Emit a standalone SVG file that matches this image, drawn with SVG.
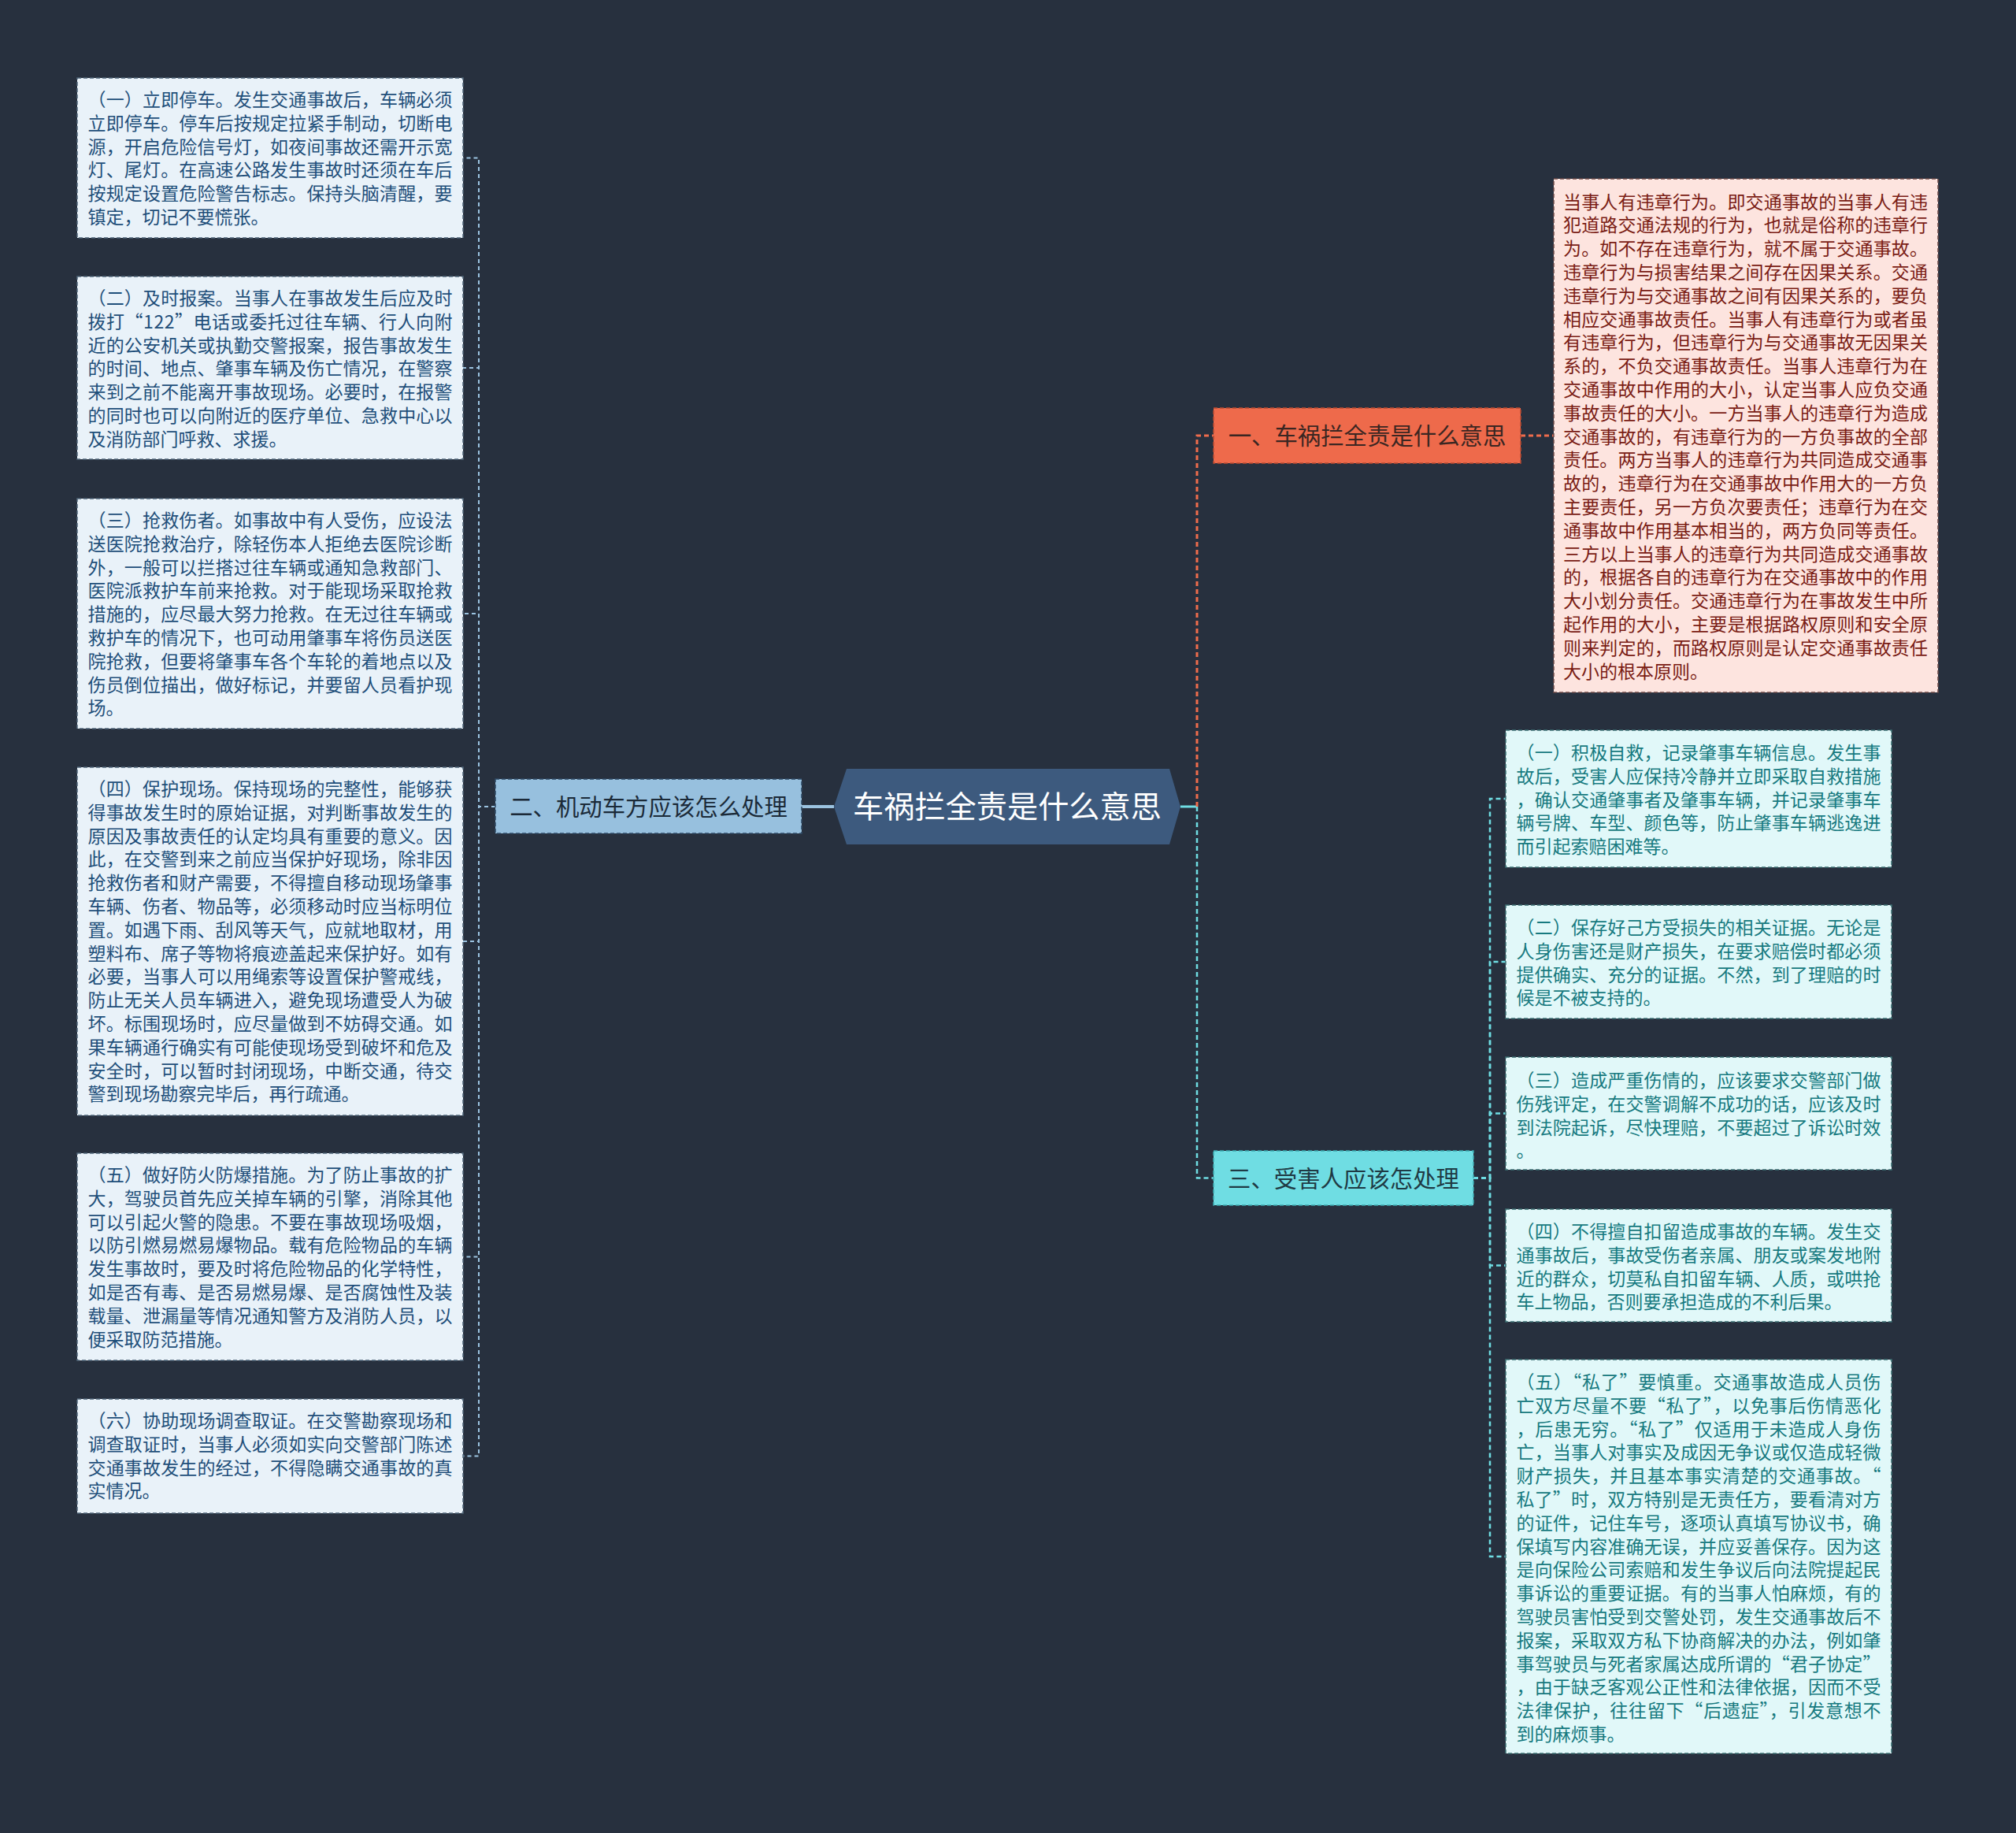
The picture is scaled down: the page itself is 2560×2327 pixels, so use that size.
<svg xmlns="http://www.w3.org/2000/svg" width="2560" height="2327" viewBox="0 0 2560 2327">
<style>
text{font-family:"Noto Sans CJK SC","Noto Sans CJK TC",sans-serif}
.lb{fill:#e9f2f9;stroke:#4f6478;stroke-width:1.5;stroke-dasharray:5 3}
.pb{fill:#fde4df;stroke:#6d4a48;stroke-width:1.5;stroke-dasharray:5 3}
.cb{fill:#e1f8f9;stroke:#3b6e72;stroke-width:1.5;stroke-dasharray:5 3}
.lt{font-size:23px;fill:#1f4f7a}
.pt{font-size:23px;fill:#7a1c14}
.ct{font-size:23px;fill:#177a80}
.tp{font-size:29.4px;text-anchor:middle}
.cl{fill:none;stroke:#9bc3e0;stroke-width:2;stroke-dasharray:5 4}
.co{fill:none;stroke:#ef6c4c;stroke-width:3;stroke-dasharray:6 4}
.cc{fill:none;stroke:#6fdde3;stroke-width:2.5;stroke-dasharray:6 4}
</style>
<rect width="2560" height="2327" fill="#27303e"/>
<g id="connectors">
<line x1="1018" y1="1024" x2="1059" y2="1024" stroke="#9bc3e0" stroke-width="4"/>
<line x1="1499" y1="1024" x2="1520" y2="1024" stroke="#6fdde3" stroke-width="3"/>
<path class="cl" d="M629,1024H608V200.5H588"/>
<path class="cl" d="M629,1024H608V467H588"/>
<path class="cl" d="M629,1024H608V779H588"/>
<path class="cl" d="M629,1024H608V1195H588"/>
<path class="cl" d="M629,1024H608V1595.5H588"/>
<path class="cl" d="M629,1024H608V1848.5H588"/>
<path class="co" d="M1520,1024V553H1541"/>
<path class="co" d="M1931,553H1973"/>
<path class="cc" d="M1520,1024V1495.5H1541"/>
<path class="cc" d="M1871,1495.5H1892V1014H1912"/>
<path class="cc" d="M1871,1495.5H1892V1221H1912"/>
<path class="cc" d="M1871,1495.5H1892V1413.5H1912"/>
<path class="cc" d="M1871,1495.5H1892V1606.5H1912"/>
<path class="cc" d="M1871,1495.5H1892V1976H1912"/>
</g>
<g id="root">
<polygon points="1059,1024 1075,976 1485,976 1499,1024 1485,1072 1075,1072" fill="#3d5a7e"/>
<text x="1279" y="1038" font-size="39.2" fill="#ffffff" text-anchor="middle">车祸拦全责是什么意思</text>
</g>
<g id="topic2">
<rect x="629" y="989" width="389" height="69" fill="#97c0de" stroke="#2f4a66" stroke-width="1.5" stroke-dasharray="5 3"/>
<text class="tp" x="823.5" y="1034.5" fill="#1b2a38">二、机动车方应该怎么处理</text>
</g>
<g id="topic1">
<rect x="1541" y="518" width="390" height="70" fill="#ee6a4b" stroke="#b84a32" stroke-width="1.5" stroke-dasharray="5 3"/>
<text class="tp" x="1736" y="564" fill="#3a2622">一、车祸拦全责是什么意思</text>
</g>
<g id="topic3">
<rect x="1541" y="1461" width="330" height="69" fill="#6fdde3" stroke="#3ca9b0" stroke-width="1.5" stroke-dasharray="5 3"/>
<text class="tp" x="1706" y="1506.5" fill="#1f3a44">三、受害人应该怎处理</text>
</g>
<g id="l1">
<rect class="lb" x="98" y="99" width="490" height="203"/>
<text class="lt" x="111.5" y="135" textLength="463" lengthAdjust="spacing">（一）立即停车。发生交通事故后，车辆必须</text>
<text class="lt" x="111.5" y="164.8" textLength="463" lengthAdjust="spacing">立即停车。停车后按规定拉紧手制动，切断电</text>
<text class="lt" x="111.5" y="194.6" textLength="463" lengthAdjust="spacing">源，开启危险信号灯，如夜间事故还需开示宽</text>
<text class="lt" x="111.5" y="224.4" textLength="463" lengthAdjust="spacing">灯、尾灯。在高速公路发生事故时还须在车后</text>
<text class="lt" x="111.5" y="254.2" textLength="463" lengthAdjust="spacing">按规定设置危险警告标志。保持头脑清醒，要</text>
<text class="lt" x="111.5" y="284">镇定，切记不要慌张。</text>
</g>
<g id="l2">
<rect class="lb" x="98" y="351" width="490" height="232"/>
<text class="lt" x="111.5" y="387" textLength="463" lengthAdjust="spacing">（二）及时报案。当事人在事故发生后应及时</text>
<text class="lt" x="111.5" y="416.8" textLength="463" lengthAdjust="spacing">拨打“122”电话或委托过往车辆、行人向附</text>
<text class="lt" x="111.5" y="446.6" textLength="463" lengthAdjust="spacing">近的公安机关或执勤交警报案，报告事故发生</text>
<text class="lt" x="111.5" y="476.4" textLength="463" lengthAdjust="spacing">的时间、地点、肇事车辆及伤亡情况，在警察</text>
<text class="lt" x="111.5" y="506.2" textLength="463" lengthAdjust="spacing">来到之前不能离开事故现场。必要时，在报警</text>
<text class="lt" x="111.5" y="536" textLength="463" lengthAdjust="spacing">的同时也可以向附近的医疗单位、急救中心以</text>
<text class="lt" x="111.5" y="565.8">及消防部门呼救、求援。</text>
</g>
<g id="l3">
<rect class="lb" x="98" y="633" width="490" height="292"/>
<text class="lt" x="111.5" y="669" textLength="463" lengthAdjust="spacing">（三）抢救伤者。如事故中有人受伤，应设法</text>
<text class="lt" x="111.5" y="698.8" textLength="463" lengthAdjust="spacing">送医院抢救治疗，除轻伤本人拒绝去医院诊断</text>
<text class="lt" x="111.5" y="728.6" textLength="463" lengthAdjust="spacing">外，一般可以拦搭过往车辆或通知急救部门、</text>
<text class="lt" x="111.5" y="758.4" textLength="463" lengthAdjust="spacing">医院派救护车前来抢救。对于能现场采取抢救</text>
<text class="lt" x="111.5" y="788.2" textLength="463" lengthAdjust="spacing">措施的，应尽最大努力抢救。在无过往车辆或</text>
<text class="lt" x="111.5" y="818" textLength="463" lengthAdjust="spacing">救护车的情况下，也可动用肇事车将伤员送医</text>
<text class="lt" x="111.5" y="847.8" textLength="463" lengthAdjust="spacing">院抢救，但要将肇事车各个车轮的着地点以及</text>
<text class="lt" x="111.5" y="877.6" textLength="463" lengthAdjust="spacing">伤员倒位描出，做好标记，并要留人员看护现</text>
<text class="lt" x="111.5" y="907.4">场。</text>
</g>
<g id="l4">
<rect class="lb" x="98" y="974" width="490" height="442"/>
<text class="lt" x="111.5" y="1010" textLength="463" lengthAdjust="spacing">（四）保护现场。保持现场的完整性，能够获</text>
<text class="lt" x="111.5" y="1039.8" textLength="463" lengthAdjust="spacing">得事故发生时的原始证据，对判断事故发生的</text>
<text class="lt" x="111.5" y="1069.6" textLength="463" lengthAdjust="spacing">原因及事故责任的认定均具有重要的意义。因</text>
<text class="lt" x="111.5" y="1099.4" textLength="463" lengthAdjust="spacing">此，在交警到来之前应当保护好现场，除非因</text>
<text class="lt" x="111.5" y="1129.2" textLength="463" lengthAdjust="spacing">抢救伤者和财产需要，不得擅自移动现场肇事</text>
<text class="lt" x="111.5" y="1159" textLength="463" lengthAdjust="spacing">车辆、伤者、物品等，必须移动时应当标明位</text>
<text class="lt" x="111.5" y="1188.8" textLength="463" lengthAdjust="spacing">置。如遇下雨、刮风等天气，应就地取材，用</text>
<text class="lt" x="111.5" y="1218.6" textLength="463" lengthAdjust="spacing">塑料布、席子等物将痕迹盖起来保护好。如有</text>
<text class="lt" x="111.5" y="1248.4" textLength="463" lengthAdjust="spacing">必要，当事人可以用绳索等设置保护警戒线，</text>
<text class="lt" x="111.5" y="1278.2" textLength="463" lengthAdjust="spacing">防止无关人员车辆进入，避免现场遭受人为破</text>
<text class="lt" x="111.5" y="1308" textLength="463" lengthAdjust="spacing">坏。标围现场时，应尽量做到不妨碍交通。如</text>
<text class="lt" x="111.5" y="1337.8" textLength="463" lengthAdjust="spacing">果车辆通行确实有可能使现场受到破坏和危及</text>
<text class="lt" x="111.5" y="1367.6" textLength="463" lengthAdjust="spacing">安全时，可以暂时封闭现场，中断交通，待交</text>
<text class="lt" x="111.5" y="1397.4">警到现场勘察完毕后，再行疏通。</text>
</g>
<g id="l5">
<rect class="lb" x="98" y="1464" width="490" height="263"/>
<text class="lt" x="111.5" y="1500" textLength="463" lengthAdjust="spacing">（五）做好防火防爆措施。为了防止事故的扩</text>
<text class="lt" x="111.5" y="1529.8" textLength="463" lengthAdjust="spacing">大，驾驶员首先应关掉车辆的引擎，消除其他</text>
<text class="lt" x="111.5" y="1559.6" textLength="463" lengthAdjust="spacing">可以引起火警的隐患。不要在事故现场吸烟，</text>
<text class="lt" x="111.5" y="1589.4" textLength="463" lengthAdjust="spacing">以防引燃易燃易爆物品。载有危险物品的车辆</text>
<text class="lt" x="111.5" y="1619.2" textLength="463" lengthAdjust="spacing">发生事故时，要及时将危险物品的化学特性，</text>
<text class="lt" x="111.5" y="1649" textLength="463" lengthAdjust="spacing">如是否有毒、是否易燃易爆、是否腐蚀性及装</text>
<text class="lt" x="111.5" y="1678.8" textLength="463" lengthAdjust="spacing">载量、泄漏量等情况通知警方及消防人员，以</text>
<text class="lt" x="111.5" y="1708.6">便采取防范措施。</text>
</g>
<g id="l6">
<rect class="lb" x="98" y="1776" width="490" height="145"/>
<text class="lt" x="111.5" y="1812" textLength="463" lengthAdjust="spacing">（六）协助现场调查取证。在交警勘察现场和</text>
<text class="lt" x="111.5" y="1841.8" textLength="463" lengthAdjust="spacing">调查取证时，当事人必须如实向交警部门陈述</text>
<text class="lt" x="111.5" y="1871.6" textLength="463" lengthAdjust="spacing">交通事故发生的经过，不得隐瞒交通事故的真</text>
<text class="lt" x="111.5" y="1901.4">实情况。</text>
</g>
<g id="p1">
<rect class="pb" x="1973" y="227" width="488" height="652"/>
<text class="pt" x="1985" y="264.5" textLength="463" lengthAdjust="spacing">当事人有违章行为。即交通事故的当事人有违</text>
<text class="pt" x="1985" y="294.3" textLength="463" lengthAdjust="spacing">犯道路交通法规的行为，也就是俗称的违章行</text>
<text class="pt" x="1985" y="324.1" textLength="463" lengthAdjust="spacing">为。如不存在违章行为，就不属于交通事故。</text>
<text class="pt" x="1985" y="353.9" textLength="463" lengthAdjust="spacing">违章行为与损害结果之间存在因果关系。交通</text>
<text class="pt" x="1985" y="383.7" textLength="463" lengthAdjust="spacing">违章行为与交通事故之间有因果关系的，要负</text>
<text class="pt" x="1985" y="413.5" textLength="463" lengthAdjust="spacing">相应交通事故责任。当事人有违章行为或者虽</text>
<text class="pt" x="1985" y="443.3" textLength="463" lengthAdjust="spacing">有违章行为，但违章行为与交通事故无因果关</text>
<text class="pt" x="1985" y="473.1" textLength="463" lengthAdjust="spacing">系的，不负交通事故责任。当事人违章行为在</text>
<text class="pt" x="1985" y="502.9" textLength="463" lengthAdjust="spacing">交通事故中作用的大小，认定当事人应负交通</text>
<text class="pt" x="1985" y="532.7" textLength="463" lengthAdjust="spacing">事故责任的大小。一方当事人的违章行为造成</text>
<text class="pt" x="1985" y="562.5" textLength="463" lengthAdjust="spacing">交通事故的，有违章行为的一方负事故的全部</text>
<text class="pt" x="1985" y="592.3" textLength="463" lengthAdjust="spacing">责任。两方当事人的违章行为共同造成交通事</text>
<text class="pt" x="1985" y="622.1" textLength="463" lengthAdjust="spacing">故的，违章行为在交通事故中作用大的一方负</text>
<text class="pt" x="1985" y="651.9" textLength="463" lengthAdjust="spacing">主要责任，另一方负次要责任；违章行为在交</text>
<text class="pt" x="1985" y="681.7" textLength="463" lengthAdjust="spacing">通事故中作用基本相当的，两方负同等责任。</text>
<text class="pt" x="1985" y="711.5" textLength="463" lengthAdjust="spacing">三方以上当事人的违章行为共同造成交通事故</text>
<text class="pt" x="1985" y="741.3" textLength="463" lengthAdjust="spacing">的，根据各自的违章行为在交通事故中的作用</text>
<text class="pt" x="1985" y="771.1" textLength="463" lengthAdjust="spacing">大小划分责任。交通违章行为在事故发生中所</text>
<text class="pt" x="1985" y="800.9" textLength="463" lengthAdjust="spacing">起作用的大小，主要是根据路权原则和安全原</text>
<text class="pt" x="1985" y="830.7" textLength="463" lengthAdjust="spacing">则来判定的，而路权原则是认定交通事故责任</text>
<text class="pt" x="1985" y="860.5">大小的根本原则。</text>
</g>
<g id="c1">
<rect class="cb" x="1912" y="927" width="490" height="174"/>
<text class="ct" x="1925.5" y="964" textLength="463" lengthAdjust="spacing">（一）积极自救，记录肇事车辆信息。发生事</text>
<text class="ct" x="1925.5" y="993.8" textLength="463" lengthAdjust="spacing">故后，受害人应保持冷静并立即采取自救措施</text>
<text class="ct" x="1925.5" y="1023.6" textLength="463" lengthAdjust="spacing">，确认交通肇事者及肇事车辆，并记录肇事车</text>
<text class="ct" x="1925.5" y="1053.4" textLength="463" lengthAdjust="spacing">辆号牌、车型、颜色等，防止肇事车辆逃逸进</text>
<text class="ct" x="1925.5" y="1083.2">而引起索赔困难等。</text>
</g>
<g id="c2">
<rect class="cb" x="1912" y="1149" width="490" height="144"/>
<text class="ct" x="1925.5" y="1186" textLength="463" lengthAdjust="spacing">（二）保存好己方受损失的相关证据。无论是</text>
<text class="ct" x="1925.5" y="1215.8" textLength="463" lengthAdjust="spacing">人身伤害还是财产损失，在要求赔偿时都必须</text>
<text class="ct" x="1925.5" y="1245.6" textLength="463" lengthAdjust="spacing">提供确实、充分的证据。不然，到了理赔的时</text>
<text class="ct" x="1925.5" y="1275.4">候是不被支持的。</text>
</g>
<g id="c3">
<rect class="cb" x="1912" y="1342" width="490" height="143"/>
<text class="ct" x="1925.5" y="1380" textLength="463" lengthAdjust="spacing">（三）造成严重伤情的，应该要求交警部门做</text>
<text class="ct" x="1925.5" y="1409.8" textLength="463" lengthAdjust="spacing">伤残评定，在交警调解不成功的话，应该及时</text>
<text class="ct" x="1925.5" y="1439.6" textLength="463" lengthAdjust="spacing">到法院起诉，尽快理赔，不要超过了诉讼时效</text>
<text class="ct" x="1925.5" y="1469.4">。</text>
</g>
<g id="c4">
<rect class="cb" x="1912" y="1535" width="490" height="143"/>
<text class="ct" x="1925.5" y="1572" textLength="463" lengthAdjust="spacing">（四）不得擅自扣留造成事故的车辆。发生交</text>
<text class="ct" x="1925.5" y="1601.8" textLength="463" lengthAdjust="spacing">通事故后，事故受伤者亲属、朋友或案发地附</text>
<text class="ct" x="1925.5" y="1631.6" textLength="463" lengthAdjust="spacing">近的群众，切莫私自扣留车辆、人质，或哄抢</text>
<text class="ct" x="1925.5" y="1661.4">车上物品，否则要承担造成的不利后果。</text>
</g>
<g id="c5">
<rect class="cb" x="1912" y="1726" width="490" height="500"/>
<text class="ct" x="1925.5" y="1763" textLength="463" lengthAdjust="spacing">（五）“私了”要慎重。交通事故造成人员伤</text>
<text class="ct" x="1925.5" y="1792.8" textLength="463" lengthAdjust="spacing">亡双方尽量不要“私了”，以免事后伤情恶化</text>
<text class="ct" x="1925.5" y="1822.6" textLength="463" lengthAdjust="spacing">，后患无穷。“私了”仅适用于未造成人身伤</text>
<text class="ct" x="1925.5" y="1852.4" textLength="463" lengthAdjust="spacing">亡，当事人对事实及成因无争议或仅造成轻微</text>
<text class="ct" x="1925.5" y="1882.2" textLength="463" lengthAdjust="spacing">财产损失，并且基本事实清楚的交通事故。“</text>
<text class="ct" x="1925.5" y="1912" textLength="463" lengthAdjust="spacing">私了”时，双方特别是无责任方，要看清对方</text>
<text class="ct" x="1925.5" y="1941.8" textLength="463" lengthAdjust="spacing">的证件，记住车号，逐项认真填写协议书，确</text>
<text class="ct" x="1925.5" y="1971.6" textLength="463" lengthAdjust="spacing">保填写内容准确无误，并应妥善保存。因为这</text>
<text class="ct" x="1925.5" y="2001.4" textLength="463" lengthAdjust="spacing">是向保险公司索赔和发生争议后向法院提起民</text>
<text class="ct" x="1925.5" y="2031.2" textLength="463" lengthAdjust="spacing">事诉讼的重要证据。有的当事人怕麻烦，有的</text>
<text class="ct" x="1925.5" y="2061" textLength="463" lengthAdjust="spacing">驾驶员害怕受到交警处罚，发生交通事故后不</text>
<text class="ct" x="1925.5" y="2090.8" textLength="463" lengthAdjust="spacing">报案，采取双方私下协商解决的办法，例如肇</text>
<text class="ct" x="1925.5" y="2120.6" textLength="463" lengthAdjust="spacing">事驾驶员与死者家属达成所谓的“君子协定”</text>
<text class="ct" x="1925.5" y="2150.4" textLength="463" lengthAdjust="spacing">，由于缺乏客观公正性和法律依据，因而不受</text>
<text class="ct" x="1925.5" y="2180.2" textLength="463" lengthAdjust="spacing">法律保护，往往留下“后遗症”，引发意想不</text>
<text class="ct" x="1925.5" y="2210">到的麻烦事。</text>
</g>
</svg>
